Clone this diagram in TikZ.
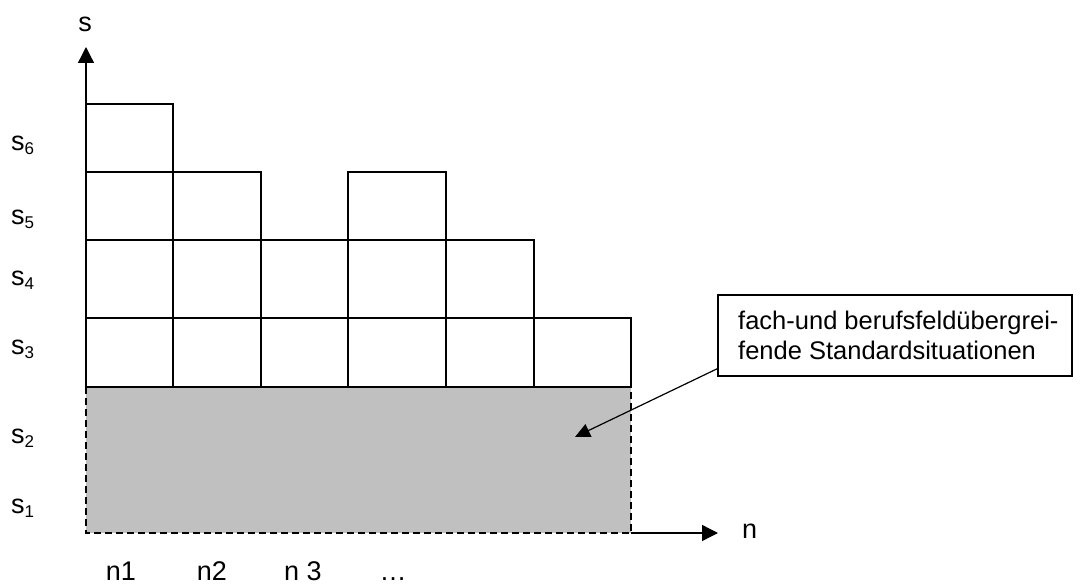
\documentclass[tikz,border=0pt]{standalone}
\usepackage{fontspec}
\setmainfont{Liberation Sans}
\usetikzlibrary{arrows.meta}
\definecolor{boxgray}{HTML}{C0C0C0}
\newcommand{\slab}[1]{s\raisebox{-4pt}{\fontsize{17}{17}\selectfont #1}}
\begin{document}
\begin{tikzpicture}[x=1pt,y=-1pt,
  cell/.style={draw=black,line width=1.4pt},
  axis/.style={draw=black,line width=1.3pt,-{Triangle[length=16pt,width=16pt]}},
  lab/.style={font=\fontsize{27}{30}\selectfont,inner sep=0pt},
  callout/.style={draw=black,line width=1.4pt,minimum width=354pt,minimum height=81pt,inner sep=0pt},
  ctext/.style={font=\fontsize{25.5}{30}\selectfont,align=left,inner sep=0pt},
  pointer/.style={draw=black,line width=1.2pt,-{Triangle[length=15pt,width=14pt]}}]
\useasboundingbox (0,0) rectangle (1090,588);
% shaded base area
\draw[fill=boxgray,draw=black,line width=1.4pt,dash pattern=on 7pt off 4pt] (86,387) rectangle (631,533);
% columns of cells
\foreach \xa/\xb/\top in {86/173/104,173/261/172,261/348/240,348/446/172,446/534/240,534/631/318}{
  \foreach \ya/\yb in {104/172,172/240,240/318,318/387}{
    \pgfmathparse{\ya>=\top ? 1 : 0}
    \ifnum\pgfmathresult=1
      \draw[cell] (\xa,\ya) rectangle (\xb,\yb);
    \fi
  }
}
% axes
\coordinate (o) at (86,387);
\coordinate (stip) at (86,47);
\coordinate (nstart) at (631,533);
\coordinate (ntip) at (718,533);
\draw[axis] (o) -- (stip);
\draw[axis] (nstart) -- (ntip);
\node[lab,anchor=base] (s) at (85,32) {s};
\node[lab,anchor=base west] (n) at (742,538) {n};
% s labels
\node[lab,anchor=base west] (s6) at (11,151) {\slab{6}};
\node[lab,anchor=base west] (s5) at (11,225) {\slab{5}};
\node[lab,anchor=base west] (s4) at (11,285) {\slab{4}};
\node[lab,anchor=base west] (s3) at (11,354) {\slab{3}};
\node[lab,anchor=base west] (s2) at (11,443) {\slab{2}};
\node[lab,anchor=base west] (s1) at (11,513) {\slab{1}};
% n labels
\node[lab,anchor=base] (n1) at (121,580) {n1};
\node[lab,anchor=base] (n2) at (212,580) {n2};
\node[lab,anchor=base] (n3) at (303,580) {n 3};
\node[lab,anchor=base] (ndots) at (393,580) {…};
% callout
\node[callout] (cb) at (895,335.5) {};
\node[ctext,anchor=north west] (ct) at (738,311) {fach-und berufsfeldübergrei-\\fende Standardsituationen};
\coordinate (ptip) at (575,437);
\draw[pointer] ([yshift=8pt]cb.south west) -- (ptip);
\end{tikzpicture}
\end{document}
